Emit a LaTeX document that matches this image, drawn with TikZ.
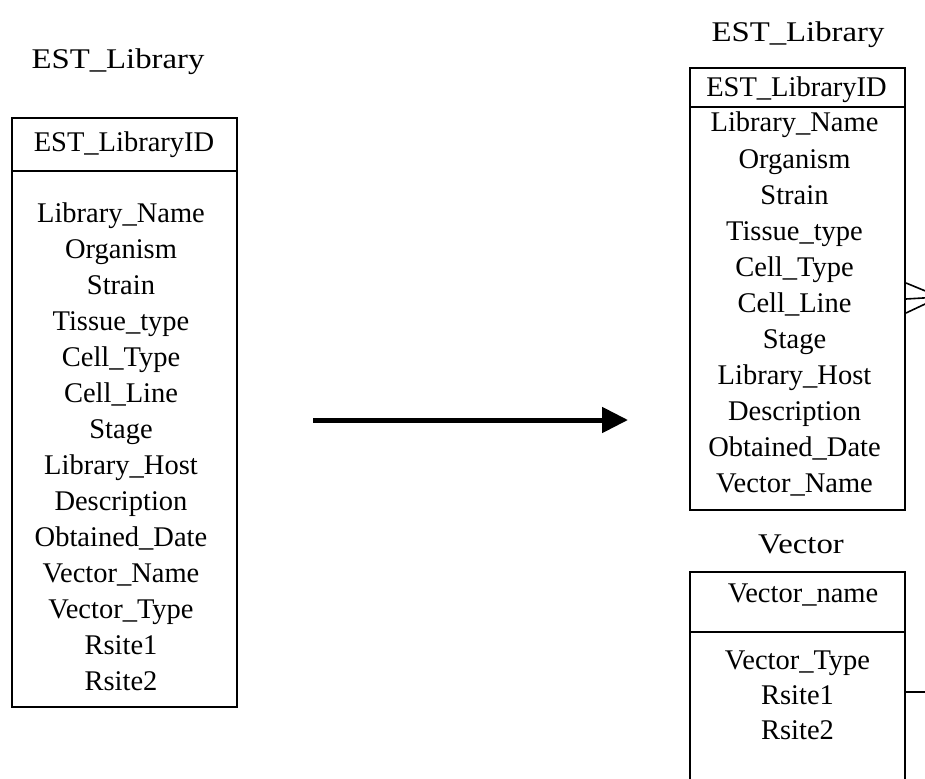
\documentclass[tikz,border=0pt]{standalone}
\usepackage{fontspec}
\setmainfont{Liberation Serif}
\newfontfamily\titlefont[FakeStretch=1.15]{Liberation Serif}
\usetikzlibrary{arrows.meta}

\begin{document}
\begin{tikzpicture}[x=1pt,y=-1pt,
  field/.style={anchor=base, inner sep=0pt, font=\fontsize{28.5}{30}\selectfont},
  tabletitle/.style={anchor=base, inner sep=0pt, font=\titlefont\fontsize{28.5}{30}\selectfont},
  tablebox/.style={draw, line width=2pt, inner sep=0pt},
  frame/.style={line width=2pt},
  relation/.style={line width=1.6pt},
]
\useasboundingbox (0,0) rectangle (925,778);
\clip (0,0) rectangle (925,778);

% ---- single flat table (left) ----
\node[tabletitle] (tA) at (118,69) {EST\_Library};
\node[tablebox, minimum width=225pt, minimum height=589pt] (libA) at (124.5,412.5) {};
\draw[frame] (libA.west |- 0,171) -- (libA.east |- 0,171);
\node[field] (keyA) at (124,152) {EST\_LibraryID};
\foreach [count=\i] \t in {Library\_Name, Organism, Strain, Tissue\_type, Cell\_Type,
    Cell\_Line, Stage, Library\_Host, Description, Obtained\_Date, Vector\_Name,
    Vector\_Type, Rsite1, Rsite2}
  \node[field] (fa\i) at (121,{222+36*(\i-1)}) {\t};

% ---- transformation arrow ----
\coordinate (arrS) at (313,420);
\coordinate (arrE) at (628,420);
\draw[line width=5pt, -{Triangle[length=26pt,width=25pt]}] (arrS) -- (arrE);

% ---- normalised tables (right) ----
\node[tabletitle] (tB) at (798,42) {EST\_Library};
\node[tablebox, minimum width=215pt, minimum height=442pt] (libB) at (797.5,289) {};
\draw[frame] (libB.west |- 0,107) -- (libB.east |- 0,107);
\node[field] (keyB) at (796.5,97) {EST\_LibraryID};
\foreach [count=\i] \t in {Library\_Name, Organism, Strain, Tissue\_type, Cell\_Type,
    Cell\_Line, Stage, Library\_Host, Description, Obtained\_Date, Vector\_Name}
  \node[field] (fb\i) at (794.5,{132+36*(\i-1)}) {\t};

\node[tabletitle] (tC) at (801,553) {Vector};
\node[tablebox, minimum width=215pt, minimum height=228pt] (vec) at (797.5,686) {};
\draw[frame] (vec.west |- 0,632) -- (vec.east |- 0,632);
\node[field] (keyC) at (803,602) {Vector\_name};
\foreach [count=\i] \t in {Vector\_Type, Rsite1, Rsite2}
  \node[field] (fc\i) at (797.5,{669+35*(\i-1)}) {\t};

% ---- relationship ends ----
\draw[relation] (libB.east |- 0,283) -- (940,297);
\draw[relation] (libB.east |- 0,299) -- (940,297);
\draw[relation] (libB.east |- 0,313) -- (940,297);
\coordinate (relC) at (930,692);
\draw[relation] (vec.east |- 0,692) -- (relC);
\end{tikzpicture}
\end{document}
